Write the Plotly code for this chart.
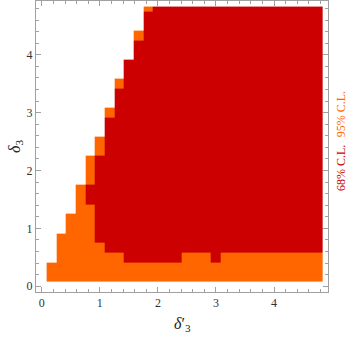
import plotly.graph_objects as go

# scan grid in delta'_3 and delta_3 (step 1/6)
grid = [k / 6 for k in range(1, 30)]
edges = [(k + 0.5) / 6 for k in range(29)] + [29 / 6]

# per column of delta'_3: upper edge of 95% region, and 68% band
cl95_top = [0.33, 0.83, 1.17, 1.67, 2.17, 2.5, 3.0, 3.5, 3.83, 4.33] + [4.83] * 19
cl68_lo = [None] * 4 + [1.5, 0.83, 0.67, 0.67, 0.5, 0.5, 0.5, 0.5, 0.5, 0.5,
                        0.67, 0.67, 0.67, 0.5] + [0.67] * 11
cl68_hi = [None] * 4 + [1.67, 2.17, 2.83, 3.33, 3.83, 4.17, 4.67] + [4.83] * 18

z = []
for y in grid:
    row = []
    for i in range(len(grid)):
        v = None
        if y <= cl95_top[i] + 0.01:
            v = 1
        if cl68_lo[i] is not None and cl68_lo[i] - 0.01 <= y <= cl68_hi[i] + 0.01:
            v = 2
        row.append(v)
    z.append(row)

red = "#CC0000"
orange = "#FF6600"

fig = go.Figure()
fig.add_trace(go.Heatmap(x=edges, y=edges, z=z, zmin=1, zmax=2,
                         colorscale=[[0, orange], [0.5, orange], [0.5, red], [1, red]],
                         showscale=False, hoverinfo="skip"))

axis_style = dict(range=[-0.1, 4.93], showline=True, linecolor="#a0a0a0", linewidth=1,
                  mirror="allticks", ticks="inside", ticklen=5, tickcolor="#a0a0a0",
                  dtick=1, tick0=0, showgrid=False, zeroline=False,
                  tickfont=dict(family="Liberation Serif", size=12, color="#333"),
                  minor=dict(dtick=0.2, ticks="inside", ticklen=3, tickcolor="#a0a0a0"))
fig.update_xaxes(**axis_style)
fig.update_yaxes(**axis_style)

fig.add_annotation(text="<i>δ</i>′<sub>3</sub>", xref="paper", yref="paper", x=0.5, y=-0.11,
                   showarrow=False, yanchor="middle",
                   font=dict(family="Liberation Serif", size=16, color="#222"))
fig.add_annotation(text="<i>δ</i><sub>3</sub>", xref="paper", yref="paper", x=-0.07, y=0.5,
                   showarrow=False, textangle=-90, xanchor="center",
                   font=dict(family="Liberation Serif", size=16, color="#222"))
fig.add_annotation(text="68% C.L.", xref="paper", yref="paper", x=1.047, y=0.425,
                   showarrow=False, textangle=-90, xanchor="center",
                   font=dict(family="Liberation Serif", size=12, color=red))
fig.add_annotation(text="95% C.L.", xref="paper", yref="paper", x=1.047, y=0.61,
                   showarrow=False, textangle=-90, xanchor="center",
                   font=dict(family="Liberation Serif", size=12, color=orange))

fig.update_layout(width=349, height=338, plot_bgcolor="white", paper_bgcolor="white",
                  margin=dict(l=36, r=21, t=1, b=46))
fig.write_html("out.html", config={"displayModeBar": False},
               post_script="document.body.style.margin='0';")
